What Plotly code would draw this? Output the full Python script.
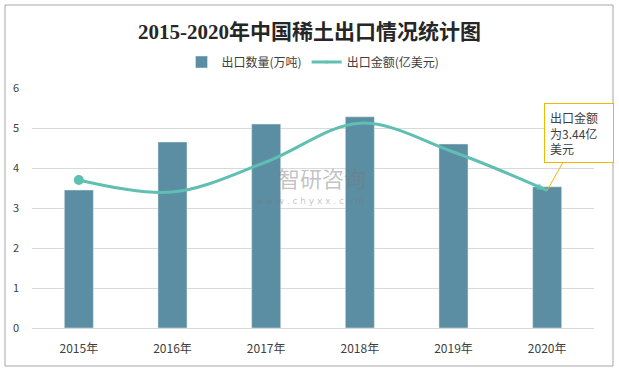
import plotly.graph_objects as go

years = ["2015年", "2016年", "2017年", "2018年", "2019年", "2020年"]
export_volume = [3.45, 4.65, 5.1, 5.28, 4.6, 3.53]      # 出口数量(万吨)
export_value = [3.7, 3.4, 4.15, 5.12, 4.4, 3.44]        # 出口金额(亿美元)

bar_color = "#5b8ea3"
line_color = "#5fbfb3"
cjk = "Noto Sans CJK SC"

fig = go.Figure()
fig.add_trace(go.Bar(
    x=years, y=export_volume, name="出口数量(万吨)",
    marker=dict(color=bar_color), width=0.31,
))
fig.add_trace(go.Scatter(
    x=years, y=export_value, name="出口金额(亿美元)",
    mode="lines+markers",
    line=dict(color=line_color, width=3, shape="spline", smoothing=1.0),
    marker=dict(color=line_color,
                symbol=["circle", "circle", "circle", "circle", "circle", "arrow"],
                size=[9, 0, 0, 0, 0, 11], angleref="previous",
                line=dict(width=0)),
))
fig.add_trace(go.Scatter(
    x=years[:1], y=export_value[:1], mode="markers", showlegend=False,
    marker=dict(color=line_color, symbol="circle", size=10, line=dict(width=0)),
    hoverinfo="skip",
))

W, H = 619, 371
l, r, t, b = 32, 25, 88, 43
pw, ph = W - l - r, H - t - b
def px(x): return (x - l) / pw
def py(y): return (H - b - y) / ph

fig.add_shape(type="rect", xref="paper", yref="paper",
              x0=px(5), x1=px(613), y0=py(366), y1=py(5),
              line=dict(color="#a6a6a6", width=1), layer="below")

fig.add_annotation(xref="paper", yref="paper", x=px(322), y=py(177),
                   text="智研咨询", showarrow=False,
                   font=dict(family=cjk, size=22, color="rgba(120,120,120,0.45)"))
fig.add_annotation(xref="paper", yref="paper", x=px(310), y=py(201),
                   text="w w w . c h y x x . c o m", showarrow=False,
                   font=dict(family="DejaVu Sans", size=9, color="rgba(120,120,120,0.45)"))

fig.add_annotation(x=years[-1], y=export_value[-1], xref="x", yref="y",
                   text="出口金额<br>为3.44亿<br>美元", align="left",
                   showarrow=True, arrowhead=0, arrowcolor="#f2b800", arrowwidth=1,
                   ax=32, ay=-57, bordercolor="#f2b800", borderwidth=1, borderpad=5,
                   bgcolor="white", xanchor="center", width=58,
                   font=dict(family=cjk, size=12, color="#404040"))

fig.update_layout(
    width=W, height=H,
    margin=dict(l=l, r=r, t=t, b=b, autoexpand=False),
    paper_bgcolor="white", plot_bgcolor="white",
    title=dict(text="<b>2015-2020年中国稀土出口情况统计图</b>", x=0.5, xanchor="center",
               y=1 - 32 / H, yanchor="middle",
               font=dict(family="Liberation Serif, " + cjk, size=21, color="#262626")),
    legend=dict(orientation="h", x=0.5, xanchor="center", y=1 - 62 / H, yref="container",
                yanchor="middle", font=dict(family=cjk, size=12, color="#404040")),
    showlegend=True,
    bargap=0.6,
)
fig.update_xaxes(range=[-0.5, len(years) - 0.5], showgrid=False, showline=True,
                 linecolor="#d9d9d9", ticklabelstandoff=10,
                 tickfont=dict(family=cjk, size=12, color="#404040"), ticks="")
fig.update_yaxes(range=[0, 6], dtick=1, showgrid=True, gridcolor="#d9d9d9",
                 zeroline=False, showline=False,
                 tickfont=dict(family=cjk, size=11, color="#404040"), ticklabelstandoff=12)

fig.write_html("out.html", config={"displayModeBar": False},
               post_script="document.body.style.margin='0';")
